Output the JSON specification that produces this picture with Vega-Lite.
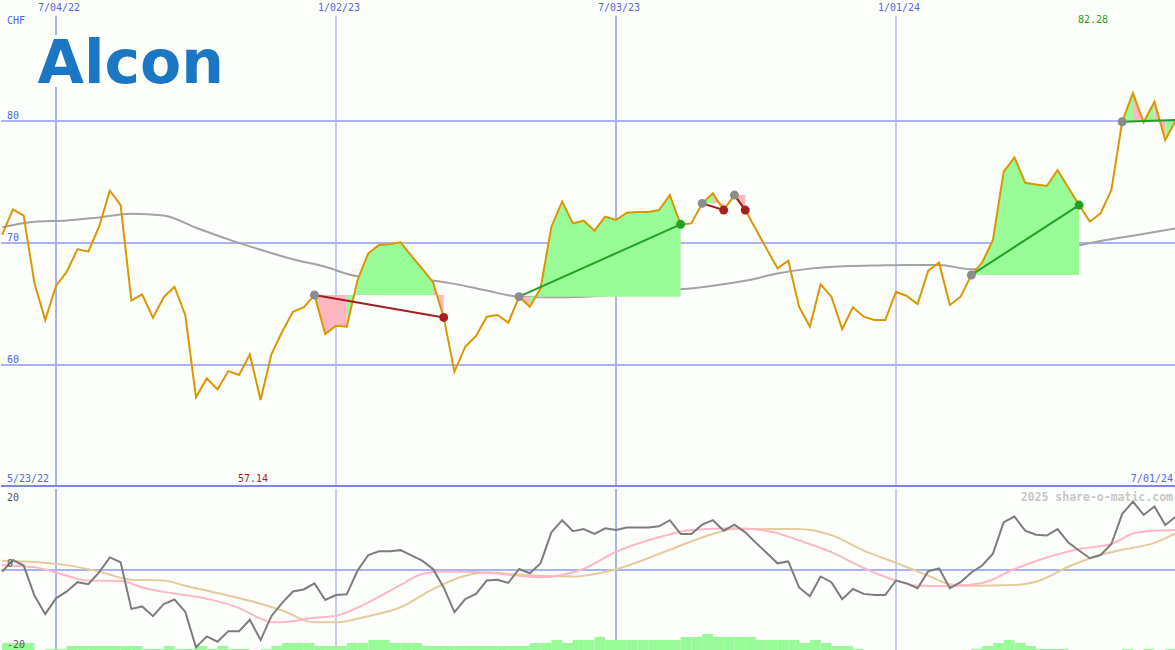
{
"$schema":"https://vega.github.io/schema/vega-lite/v6.json",
"background":"#fcfffc",
"padding":0,
"spacing":0,
"config":{"view":{"stroke":null}},
"datasets":{
"one":[{}],
"wk":[
{"d":"2022-05-30","e":"2022-06-06","p":70.66,"g":-0.4,"v":3},
{"d":"2022-06-06","e":"2022-06-13","p":72.76,"g":2.47,"v":3},
{"d":"2022-06-13","e":"2022-06-20","p":72.24,"g":1.09,"v":3},
{"d":"2022-06-20","e":"2022-06-27","p":66.7,"g":-6.3,"v":0},
{"d":"2022-06-27","e":"2022-07-04","p":63.69,"g":-10.9,"v":1},
{"d":"2022-07-04","e":"2022-07-11","p":66.48,"g":-7.0,"v":1},
{"d":"2022-07-11","e":"2022-07-18","p":67.65,"g":-5.3,"v":2},
{"d":"2022-07-18","e":"2022-07-25","p":69.5,"g":-3.0,"v":2},
{"d":"2022-07-25","e":"2022-08-01","p":69.29,"g":-3.5,"v":2},
{"d":"2022-08-01","e":"2022-08-08","p":71.34,"g":-0.6,"v":2},
{"d":"2022-08-08","e":"2022-08-15","p":74.29,"g":3.1,"v":2},
{"d":"2022-08-15","e":"2022-08-22","p":73.11,"g":1.9,"v":2},
{"d":"2022-08-22","e":"2022-08-29","p":65.27,"g":-9.6,"v":2},
{"d":"2022-08-29","e":"2022-09-05","p":65.79,"g":-9.0,"v":1},
{"d":"2022-09-05","e":"2022-09-12","p":63.88,"g":-11.4,"v":1},
{"d":"2022-09-12","e":"2022-09-19","p":65.55,"g":-8.4,"v":2},
{"d":"2022-09-19","e":"2022-09-26","p":66.42,"g":-7.3,"v":1},
{"d":"2022-09-26","e":"2022-10-03","p":64.1,"g":-10.3,"v":1},
{"d":"2022-10-03","e":"2022-10-10","p":57.35,"g":-19.1,"v":2},
{"d":"2022-10-10","e":"2022-10-17","p":58.9,"g":-16.4,"v":1},
{"d":"2022-10-17","e":"2022-10-24","p":58.0,"g":-17.7,"v":2},
{"d":"2022-10-24","e":"2022-10-31","p":59.5,"g":-15.1,"v":1},
{"d":"2022-10-31","e":"2022-11-07","p":59.18,"g":-15.1,"v":1},
{"d":"2022-11-07","e":"2022-11-14","p":60.87,"g":-12.3,"v":0},
{"d":"2022-11-14","e":"2022-11-21","p":57.14,"g":-17.3,"v":1},
{"d":"2022-11-21","e":"2022-11-28","p":60.87,"g":-11.4,"v":2},
{"d":"2022-11-28","e":"2022-12-05","p":62.73,"g":-8.1,"v":3},
{"d":"2022-12-05","e":"2022-12-12","p":64.37,"g":-5.3,"v":3},
{"d":"2022-12-12","e":"2022-12-19","p":64.73,"g":-4.8,"v":3},
{"d":"2022-12-19","e":"2022-12-26","p":65.74,"g":-3.3,"v":2},
{"d":"2022-12-26","e":"2023-01-02","p":62.54,"g":-7.4,"v":2},
{"d":"2023-01-02","e":"2023-01-09","p":63.22,"g":-6.2,"v":2},
{"d":"2023-01-09","e":"2023-01-16","p":63.14,"g":-6.0,"v":3},
{"d":"2023-01-16","e":"2023-01-23","p":66.97,"g":-0.15,"v":3},
{"d":"2023-01-23","e":"2023-01-30","p":69.16,"g":3.7,"v":4},
{"d":"2023-01-30","e":"2023-02-06","p":69.84,"g":4.6,"v":4},
{"d":"2023-02-06","e":"2023-02-13","p":69.9,"g":4.6,"v":3},
{"d":"2023-02-13","e":"2023-02-20","p":70.06,"g":4.9,"v":3},
{"d":"2023-02-20","e":"2023-02-27","p":68.95,"g":3.6,"v":3},
{"d":"2023-02-27","e":"2023-03-06","p":67.9,"g":2.3,"v":2},
{"d":"2023-03-06","e":"2023-03-13","p":66.8,"g":0.25,"v":2},
{"d":"2023-03-13","e":"2023-03-20","p":63.9,"g":-4.3,"v":2},
{"d":"2023-03-20","e":"2023-03-27","p":59.45,"g":-10.4,"v":2},
{"d":"2023-03-27","e":"2023-04-03","p":61.5,"g":-7.2,"v":2},
{"d":"2023-04-03","e":"2023-04-10","p":62.38,"g":-5.9,"v":2},
{"d":"2023-04-10","e":"2023-04-17","p":63.96,"g":-2.6,"v":2},
{"d":"2023-04-17","e":"2023-04-24","p":64.1,"g":-2.4,"v":2},
{"d":"2023-04-24","e":"2023-05-01","p":63.47,"g":-3.2,"v":2},
{"d":"2023-05-01","e":"2023-05-08","p":65.6,"g":0.25,"v":2},
{"d":"2023-05-08","e":"2023-05-15","p":64.78,"g":-0.8,"v":3},
{"d":"2023-05-15","e":"2023-05-22","p":66.3,"g":1.7,"v":3},
{"d":"2023-05-22","e":"2023-05-29","p":71.34,"g":9.3,"v":4},
{"d":"2023-05-29","e":"2023-06-05","p":73.39,"g":12.3,"v":3},
{"d":"2023-06-05","e":"2023-06-12","p":71.61,"g":9.6,"v":4},
{"d":"2023-06-12","e":"2023-06-19","p":71.83,"g":10.1,"v":4},
{"d":"2023-06-19","e":"2023-06-26","p":71.01,"g":8.9,"v":5},
{"d":"2023-06-26","e":"2023-07-03","p":72.16,"g":10.3,"v":4},
{"d":"2023-07-03","e":"2023-07-10","p":71.89,"g":9.9,"v":4},
{"d":"2023-07-10","e":"2023-07-17","p":72.49,"g":10.5,"v":4},
{"d":"2023-07-17","e":"2023-07-24","p":72.54,"g":10.5,"v":4},
{"d":"2023-07-24","e":"2023-07-31","p":72.54,"g":10.5,"v":4},
{"d":"2023-07-31","e":"2023-08-07","p":72.7,"g":10.8,"v":4},
{"d":"2023-08-07","e":"2023-08-14","p":73.93,"g":12.3,"v":4},
{"d":"2023-08-14","e":"2023-08-21","p":71.53,"g":8.9,"v":5},
{"d":"2023-08-21","e":"2023-08-28","p":71.61,"g":8.9,"v":5},
{"d":"2023-08-28","e":"2023-09-04","p":73.25,"g":11.2,"v":6},
{"d":"2023-09-04","e":"2023-09-11","p":74.07,"g":12.3,"v":5},
{"d":"2023-09-11","e":"2023-09-18","p":72.7,"g":9.7,"v":5},
{"d":"2023-09-18","e":"2023-09-25","p":73.93,"g":11.2,"v":5},
{"d":"2023-09-25","e":"2023-10-02","p":72.7,"g":9.3,"v":5},
{"d":"2023-10-02","e":"2023-10-09","p":71.1,"g":6.7,"v":4},
{"d":"2023-10-09","e":"2023-10-16","p":69.5,"g":4.2,"v":4},
{"d":"2023-10-16","e":"2023-10-23","p":67.93,"g":1.65,"v":4},
{"d":"2023-10-23","e":"2023-10-30","p":68.55,"g":2.1,"v":4},
{"d":"2023-10-30","e":"2023-11-06","p":64.78,"g":-4.3,"v":3},
{"d":"2023-11-06","e":"2023-11-13","p":63.14,"g":-6.5,"v":4},
{"d":"2023-11-13","e":"2023-11-20","p":66.61,"g":-1.6,"v":3},
{"d":"2023-11-20","e":"2023-11-27","p":65.6,"g":-3.0,"v":2},
{"d":"2023-11-27","e":"2023-12-04","p":62.95,"g":-7.2,"v":2},
{"d":"2023-12-04","e":"2023-12-11","p":64.73,"g":-4.7,"v":1},
{"d":"2023-12-11","e":"2023-12-18","p":63.96,"g":-5.9,"v":0},
{"d":"2023-12-18","e":"2023-12-25","p":63.69,"g":-6.2,"v":0},
{"d":"2023-12-25","e":"2024-01-01","p":63.69,"g":-6.2,"v":0},
{"d":"2024-01-01","e":"2024-01-08","p":66.0,"g":-2.6,"v":0},
{"d":"2024-01-08","e":"2024-01-15","p":65.66,"g":-3.3,"v":0},
{"d":"2024-01-15","e":"2024-01-22","p":65.0,"g":-4.5,"v":0},
{"d":"2024-01-22","e":"2024-01-29","p":67.73,"g":-0.3,"v":0},
{"d":"2024-01-29","e":"2024-02-05","p":68.39,"g":0.4,"v":0},
{"d":"2024-02-05","e":"2024-02-12","p":64.92,"g":-4.5,"v":0},
{"d":"2024-02-12","e":"2024-02-19","p":65.6,"g":-3.0,"v":0},
{"d":"2024-02-19","e":"2024-02-26","p":67.38,"g":-0.6,"v":1},
{"d":"2024-02-26","e":"2024-03-04","p":68.4,"g":1.1,"v":2},
{"d":"2024-03-04","e":"2024-03-11","p":70.25,"g":4.0,"v":3},
{"d":"2024-03-11","e":"2024-03-18","p":75.85,"g":11.8,"v":4},
{"d":"2024-03-18","e":"2024-03-25","p":77.02,"g":13.2,"v":3},
{"d":"2024-03-25","e":"2024-04-01","p":74.94,"g":9.7,"v":2},
{"d":"2024-04-01","e":"2024-04-08","p":74.8,"g":8.7,"v":1},
{"d":"2024-04-08","e":"2024-04-15","p":74.67,"g":8.5,"v":1},
{"d":"2024-04-15","e":"2024-04-22","p":75.98,"g":10.1,"v":1},
{"d":"2024-04-22","e":"2024-04-29","p":74.55,"g":6.8,"v":0},
{"d":"2024-04-29","e":"2024-05-06","p":73.11,"g":4.8,"v":0},
{"d":"2024-05-06","e":"2024-05-13","p":71.75,"g":2.9,"v":0},
{"d":"2024-05-13","e":"2024-05-20","p":72.44,"g":3.7,"v":0},
{"d":"2024-05-20","e":"2024-05-27","p":74.34,"g":6.4,"v":0},
{"d":"2024-05-27","e":"2024-06-03","p":79.94,"g":13.8,"v":1},
{"d":"2024-06-03","e":"2024-06-10","p":82.28,"g":16.9,"v":0},
{"d":"2024-06-10","e":"2024-06-17","p":79.9,"g":13.6,"v":1},
{"d":"2024-06-17","e":"2024-06-24","p":81.58,"g":15.7,"v":0},
{"d":"2024-06-24","e":"2024-07-01","p":78.44,"g":11.1,"v":1},
{"d":"2024-07-01","e":"2024-07-08","p":80.08,"g":13.2,"v":0}
],
"ma":[
{"d":"2022-05-30","m":71.3},{"d":"2022-06-20","m":71.75},{"d":"2022-07-11","m":71.85},{"d":"2022-08-01","m":72.1},
{"d":"2022-08-22","m":72.4},{"d":"2022-09-12","m":72.25},{"d":"2022-10-03","m":71.25},{"d":"2022-10-24","m":70.3},
{"d":"2022-11-14","m":69.45},{"d":"2022-12-05","m":68.67},{"d":"2022-12-26","m":68.05},{"d":"2023-01-16","m":67.28},
{"d":"2023-02-06","m":67.16},{"d":"2023-02-27","m":67.0},{"d":"2023-03-20","m":66.65},{"d":"2023-04-10","m":66.1},
{"d":"2023-05-01","m":65.6},{"d":"2023-05-22","m":65.55},{"d":"2023-06-12","m":65.6},{"d":"2023-07-03","m":65.8},
{"d":"2023-07-24","m":66.05},{"d":"2023-08-14","m":66.2},{"d":"2023-09-04","m":66.5},{"d":"2023-09-25","m":66.9},
{"d":"2023-10-16","m":67.5},{"d":"2023-11-06","m":67.9},{"d":"2023-11-27","m":68.1},{"d":"2023-12-18","m":68.15},
{"d":"2024-01-08","m":68.2},{"d":"2024-01-29","m":68.2},{"d":"2024-02-19","m":67.85},{"d":"2024-03-11","m":68.1},
{"d":"2024-04-01","m":68.9},{"d":"2024-04-22","m":69.6},{"d":"2024-05-13","m":70.16},{"d":"2024-06-03","m":70.6},
{"d":"2024-07-01","m":71.2}
],
"pk":[
{"d":"2022-05-30","o":1.2},{"d":"2022-06-20","o":0.7},{"d":"2022-07-04","o":-0.6},{"d":"2022-07-25","o":-2.6},
{"d":"2022-08-15","o":-2.7},{"d":"2022-08-29","o":-4.3},{"d":"2022-09-12","o":-5.4},{"d":"2022-10-10","o":-7.1},
{"d":"2022-10-31","o":-9.4},{"d":"2022-11-14","o":-12.0},{"d":"2022-11-21","o":-12.9},{"d":"2022-11-28","o":-12.9},
{"d":"2022-12-19","o":-11.8},{"d":"2023-01-02","o":-11.3},{"d":"2023-01-23","o":-8.0},{"d":"2023-02-13","o":-3.7},
{"d":"2023-02-27","o":-1.0},{"d":"2023-03-13","o":-0.4},{"d":"2023-04-10","o":-0.7},{"d":"2023-05-01","o":-1.4},
{"d":"2023-05-15","o":-1.8},{"d":"2023-06-12","o":0.3},{"d":"2023-07-03","o":4.5},{"d":"2023-07-31","o":8.1},
{"d":"2023-08-21","o":9.9},{"d":"2023-09-18","o":10.3},{"d":"2023-10-09","o":9.7},{"d":"2023-10-30","o":7.3},
{"d":"2023-11-20","o":4.4},{"d":"2023-12-11","o":0.5},{"d":"2024-01-01","o":-2.6},{"d":"2024-01-15","o":-3.9},
{"d":"2024-02-05","o":-4.0},{"d":"2024-02-26","o":-3.2},{"d":"2024-03-18","o":0.25},{"d":"2024-04-08","o":3.1},
{"d":"2024-04-29","o":5.2},{"d":"2024-05-20","o":6.4},{"d":"2024-06-03","o":9.0},{"d":"2024-06-17","o":9.7},
{"d":"2024-07-01","o":9.9}
],
"tn":[
{"d":"2022-05-30","o":2.3},{"d":"2022-06-13","o":2.1},{"d":"2022-07-11","o":1.2},{"d":"2022-08-01","o":-0.4},
{"d":"2022-08-22","o":-2.4},{"d":"2022-09-12","o":-2.6},{"d":"2022-09-26","o":-3.9},{"d":"2022-10-17","o":-5.7},
{"d":"2022-11-07","o":-7.6},{"d":"2022-11-28","o":-10.0},{"d":"2022-12-19","o":-12.9},{"d":"2023-01-02","o":-12.9},
{"d":"2023-01-23","o":-11.4},{"d":"2023-02-13","o":-9.2},{"d":"2023-03-06","o":-4.7},{"d":"2023-03-27","o":-1.4},
{"d":"2023-04-10","o":-0.6},{"d":"2023-05-01","o":-1.2},{"d":"2023-06-05","o":-1.6},{"d":"2023-07-03","o":0.2},
{"d":"2023-08-07","o":5.0},{"d":"2023-09-04","o":8.9},{"d":"2023-09-18","o":10.1},{"d":"2023-10-30","o":10.1},
{"d":"2023-11-20","o":8.6},{"d":"2023-12-11","o":4.8},{"d":"2024-01-01","o":1.8},{"d":"2024-01-22","o":-1.4},
{"d":"2024-02-05","o":-3.5},{"d":"2024-02-19","o":-3.9},{"d":"2024-03-18","o":-3.7},{"d":"2024-04-01","o":-2.9},
{"d":"2024-04-22","o":0.8},{"d":"2024-05-06","o":2.9},{"d":"2024-05-27","o":5.0},{"d":"2024-06-17","o":6.7},
{"d":"2024-07-01","o":9.1}
],
"fill":[
{"i":"A1","d":"2022-12-19","p":65.74,"b":65.74,"c":"down"},{"i":"A1","d":"2022-12-26","p":62.54,"b":65.74,"c":"down"},
{"i":"A1","d":"2023-01-02","p":63.22,"b":65.74,"c":"down"},{"i":"A1","d":"2023-01-09","p":63.14,"b":65.74,"c":"down"},
{"i":"A2","d":"2023-01-09","p":63.14,"b":65.74,"c":"up"},{"i":"A2","d":"2023-01-16","p":66.97,"b":65.74,"c":"up"},
{"i":"A2","d":"2023-01-23","p":69.16,"b":65.74,"c":"up"},{"i":"A2","d":"2023-01-30","p":69.84,"b":65.74,"c":"up"},
{"i":"A2","d":"2023-02-06","p":69.9,"b":65.74,"c":"up"},{"i":"A2","d":"2023-02-13","p":70.06,"b":65.74,"c":"up"},
{"i":"A2","d":"2023-02-20","p":68.95,"b":65.74,"c":"up"},{"i":"A2","d":"2023-02-27","p":67.9,"b":65.74,"c":"up"},
{"i":"A2","d":"2023-03-06","p":66.8,"b":65.74,"c":"up"},
{"i":"A3","d":"2023-03-06","p":66.8,"b":65.74,"c":"down"},{"i":"A3","d":"2023-03-13","p":63.9,"b":65.74,"c":"down"},
{"i":"B1","d":"2023-05-01","p":65.6,"b":65.6,"c":"down"},{"i":"B1","d":"2023-05-08","p":64.78,"b":65.6,"c":"down"},
{"i":"B2","d":"2023-05-08","p":64.78,"b":65.6,"c":"up"},{"i":"B2","d":"2023-05-15","p":66.3,"b":65.6,"c":"up"},
{"i":"B2","d":"2023-05-22","p":71.34,"b":65.6,"c":"up"},{"i":"B2","d":"2023-05-29","p":73.39,"b":65.6,"c":"up"},
{"i":"B2","d":"2023-06-05","p":71.61,"b":65.6,"c":"up"},{"i":"B2","d":"2023-06-12","p":71.83,"b":65.6,"c":"up"},
{"i":"B2","d":"2023-06-19","p":71.01,"b":65.6,"c":"up"},{"i":"B2","d":"2023-06-26","p":72.16,"b":65.6,"c":"up"},
{"i":"B2","d":"2023-07-03","p":71.89,"b":65.6,"c":"up"},{"i":"B2","d":"2023-07-10","p":72.49,"b":65.6,"c":"up"},
{"i":"B2","d":"2023-07-17","p":72.54,"b":65.6,"c":"up"},{"i":"B2","d":"2023-07-24","p":72.54,"b":65.6,"c":"up"},
{"i":"B2","d":"2023-07-31","p":72.7,"b":65.6,"c":"up"},{"i":"B2","d":"2023-08-07","p":73.93,"b":65.6,"c":"up"},
{"i":"B2","d":"2023-08-14","p":71.53,"b":65.6,"c":"up"},
{"i":"C1","d":"2023-08-28","p":73.25,"b":73.25,"c":"up"},{"i":"C1","d":"2023-09-04","p":74.07,"b":73.25,"c":"up"},
{"i":"C2","d":"2023-09-04","p":74.07,"b":73.25,"c":"down"},{"i":"C2","d":"2023-09-11","p":72.7,"b":73.25,"c":"down"},
{"i":"D1","d":"2023-09-18","p":73.93,"b":73.93,"c":"down"},{"i":"D1","d":"2023-09-25","p":72.7,"b":73.93,"c":"down"},
{"i":"E1","d":"2024-02-19","p":67.38,"b":67.38,"c":"up"},{"i":"E1","d":"2024-02-26","p":68.4,"b":67.38,"c":"up"},
{"i":"E1","d":"2024-03-04","p":70.25,"b":67.38,"c":"up"},{"i":"E1","d":"2024-03-11","p":75.85,"b":67.38,"c":"up"},
{"i":"E1","d":"2024-03-18","p":77.02,"b":67.38,"c":"up"},{"i":"E1","d":"2024-03-25","p":74.94,"b":67.38,"c":"up"},
{"i":"E1","d":"2024-04-01","p":74.8,"b":67.38,"c":"up"},{"i":"E1","d":"2024-04-08","p":74.67,"b":67.38,"c":"up"},
{"i":"E1","d":"2024-04-15","p":75.98,"b":67.38,"c":"up"},{"i":"E1","d":"2024-04-22","p":74.55,"b":67.38,"c":"up"},
{"i":"E1","d":"2024-04-29","p":73.11,"b":67.38,"c":"up"},
{"i":"F1","d":"2024-05-27","p":79.94,"b":79.94,"c":"up"},{"i":"F1","d":"2024-06-03","p":82.28,"b":79.94,"c":"up"},
{"i":"F2","d":"2024-06-03","p":82.28,"b":79.94,"c":"down"},{"i":"F2","d":"2024-06-10","p":79.9,"b":79.94,"c":"down"},
{"i":"F3","d":"2024-06-10","p":79.9,"b":79.94,"c":"up"},{"i":"F3","d":"2024-06-17","p":81.58,"b":79.94,"c":"up"},
{"i":"F4","d":"2024-06-17","p":81.58,"b":79.94,"c":"down"},{"i":"F4","d":"2024-06-24","p":78.44,"b":79.94,"c":"down"},
{"i":"F5","d":"2024-06-24","p":78.44,"b":79.94,"c":"up"},{"i":"F5","d":"2024-07-01","p":80.08,"b":79.94,"c":"up"}
],
"trend":[
{"s":"A","d":"2022-12-19","p":65.74,"dir":"down"},{"s":"A","d":"2023-03-13","p":63.9,"dir":"down"},
{"s":"B","d":"2023-05-01","p":65.6,"dir":"up"},{"s":"B","d":"2023-08-14","p":71.53,"dir":"up"},
{"s":"C","d":"2023-08-28","p":73.25,"dir":"down"},{"s":"C","d":"2023-09-11","p":72.7,"dir":"down"},
{"s":"D","d":"2023-09-18","p":73.93,"dir":"down"},{"s":"D","d":"2023-09-25","p":72.7,"dir":"down"},
{"s":"E","d":"2024-02-19","p":67.38,"dir":"up"},{"s":"E","d":"2024-04-29","p":73.11,"dir":"up"},
{"s":"F","d":"2024-05-27","p":79.94,"dir":"up"},{"s":"F","d":"2024-07-01","p":80.08,"dir":"up"}
],
"dots":[
{"d":"2022-12-19","p":65.74,"t":"start"},{"d":"2023-03-13","p":63.9,"t":"down"},
{"d":"2023-05-01","p":65.6,"t":"start"},{"d":"2023-08-14","p":71.53,"t":"up"},
{"d":"2023-08-28","p":73.25,"t":"start"},{"d":"2023-09-11","p":72.7,"t":"down"},
{"d":"2023-09-18","p":73.93,"t":"start"},{"d":"2023-09-25","p":72.7,"t":"down"},
{"d":"2024-02-19","p":67.38,"t":"start"},{"d":"2024-04-29","p":73.11,"t":"up"},
{"d":"2024-05-27","p":79.94,"t":"start"}
]
},
"vconcat":[
{
"width":1175,"height":487,
"resolve":{"scale":{"color":"independent"}},
"layer":[
{"data":{"values":[{"v":60},{"v":70},{"v":80}]},"mark":{"type":"rule","color":"#a9b2f3","strokeWidth":2},
 "encoding":{"y":{"field":"v","type":"quantitative","scale":{"domain":[50,89.92],"nice":false,"zero":false},"axis":null}}},
{"data":{"values":[{"d":"2022-07-04"},{"d":"2023-07-03"}]},"mark":{"type":"rule","color":"#a9b2f3","strokeWidth":2},
 "encoding":{"x":{"field":"d","type":"temporal","scale":{"domain":[{"year":2022,"month":5,"date":29,"hours":6},{"year":2024,"month":7,"date":1}],"nice":false},"axis":null},
  "y":{"datum":88.63,"type":"quantitative","scale":{"domain":[50,89.92],"nice":false,"zero":false},"axis":null},"y2":{"datum":50}}},
{"data":{"values":[{"d":"2023-01-02"},{"d":"2024-01-01"}]},"mark":{"type":"rule","color":"#a9b2f3","strokeWidth":1.3},
 "encoding":{"x":{"field":"d","type":"temporal","scale":{"domain":[{"year":2022,"month":5,"date":29,"hours":6},{"year":2024,"month":7,"date":1}],"nice":false},"axis":null},
  "y":{"datum":88.63,"type":"quantitative","scale":{"domain":[50,89.92],"nice":false,"zero":false},"axis":null},"y2":{"datum":50}}},
{"data":{"name":"one"},"mark":{"type":"rule","color":"#7a85ee","strokeWidth":2},"encoding":{"y":{"datum":50.09,"type":"quantitative","scale":{"domain":[50,89.92],"nice":false,"zero":false},"axis":null}}},
{"data":{"name":"one"},"mark":{"type":"rect","color":"#fcfffc"},
 "encoding":{"x":{"datum":{"year":2022,"month":6,"date":19},"type":"temporal","scale":{"domain":[{"year":2022,"month":5,"date":29,"hours":6},{"year":2024,"month":7,"date":1}],"nice":false},"axis":null},
  "x2":{"datum":{"year":2022,"month":10,"date":29}},
  "y":{"datum":87.05,"type":"quantitative","scale":{"domain":[50,89.92],"nice":false,"zero":false},"axis":null},"y2":{"datum":82.79}}},
{"data":{"name":"one"},"mark":{"type":"text","text":"Alcon","font":"DejaVu Sans","fontWeight":"bold","fontSize":60,"color":"#1b76c4","align":"left","baseline":"alphabetic"},
 "encoding":{"x":{"datum":{"year":2022,"month":6,"date":22},"type":"temporal","scale":{"domain":[{"year":2022,"month":5,"date":29,"hours":6},{"year":2024,"month":7,"date":1}],"nice":false},"axis":null},
  "y":{"datum":83.12,"type":"quantitative","scale":{"domain":[50,89.92],"nice":false,"zero":false},"axis":null}}},
{"data":{"name":"ma"},"mark":{"type":"line","color":"#a3a3a3","strokeWidth":2,"interpolate":"monotone","clip":true},
 "encoding":{"x":{"field":"d","type":"temporal","scale":{"domain":[{"year":2022,"month":5,"date":29,"hours":6},{"year":2024,"month":7,"date":1}],"nice":false},"axis":null},
  "y":{"field":"m","type":"quantitative","scale":{"domain":[50,89.92],"nice":false,"zero":false},"axis":null}}},
{"data":{"name":"fill"},"mark":{"type":"area","opacity":1,"clip":true},
 "encoding":{"x":{"field":"d","type":"temporal","scale":{"domain":[{"year":2022,"month":5,"date":29,"hours":6},{"year":2024,"month":7,"date":1}],"nice":false},"axis":null},
  "y":{"field":"p","type":"quantitative","scale":{"domain":[50,89.92],"nice":false,"zero":false},"axis":null},
  "y2":{"field":"b"},
  "detail":{"field":"i"},
  "color":{"field":"c","type":"nominal","scale":{"domain":["up","down"],"range":["#98fb98","#ffb6c1"]},"legend":null}}},
{"data":{"name":"wk"},"mark":{"type":"line","color":"#dc9600","strokeWidth":2,"clip":true},
 "encoding":{"x":{"field":"d","type":"temporal","scale":{"domain":[{"year":2022,"month":5,"date":29,"hours":6},{"year":2024,"month":7,"date":1}],"nice":false},"axis":null},
  "y":{"field":"p","type":"quantitative","scale":{"domain":[50,89.92],"nice":false,"zero":false},"axis":null}}},
{"data":{"name":"trend"},"mark":{"type":"line","strokeWidth":2,"clip":true},
 "encoding":{"x":{"field":"d","type":"temporal","scale":{"domain":[{"year":2022,"month":5,"date":29,"hours":6},{"year":2024,"month":7,"date":1}],"nice":false},"axis":null},
  "y":{"field":"p","type":"quantitative","scale":{"domain":[50,89.92],"nice":false,"zero":false},"axis":null},
  "detail":{"field":"s"},
  "color":{"field":"dir","type":"nominal","scale":{"domain":["up","down"],"range":["#22a022","#a31f1f"]},"legend":null}}},
{"data":{"name":"dots"},"mark":{"type":"circle","size":80,"opacity":1},
 "encoding":{"x":{"field":"d","type":"temporal","scale":{"domain":[{"year":2022,"month":5,"date":29,"hours":6},{"year":2024,"month":7,"date":1}],"nice":false},"axis":null},
  "y":{"field":"p","type":"quantitative","scale":{"domain":[50,89.92],"nice":false,"zero":false},"axis":null},
  "color":{"field":"t","type":"nominal","scale":{"domain":["start","up","down"],"range":["#8c8c8c","#22a022","#a81e1e"]},"legend":null}}},
{"data":{"values":[{"d":"2022-07-04","t":"7/04/22"},{"d":"2023-01-02","t":"1/02/23"},{"d":"2023-07-03","t":"7/03/23"},{"d":"2024-01-01","t":"1/01/24"}]},
 "mark":{"type":"text","font":"DejaVu Sans Mono","fontSize":10,"color":"#5563e8","align":"center","baseline":"middle","dx":3},
 "encoding":{"x":{"field":"d","type":"temporal","scale":{"domain":[{"year":2022,"month":5,"date":29,"hours":6},{"year":2024,"month":7,"date":1}],"nice":false},"axis":null},
  "y":{"datum":89.27,"type":"quantitative","scale":{"domain":[50,89.92],"nice":false,"zero":false},"axis":null},
  "text":{"field":"t"}}},
{"data":{"values":[{"v":60,"t":"60"},{"v":70,"t":"70"},{"v":80,"t":"80"}]},
 "mark":{"type":"text","font":"DejaVu Sans Mono","fontSize":10,"color":"#5563e8","align":"left","baseline":"middle","dx":6,"dy":-5},
 "encoding":{"x":{"datum":{"year":2022,"month":5,"date":29,"hours":6},"type":"temporal","scale":{"domain":[{"year":2022,"month":5,"date":29,"hours":6},{"year":2024,"month":7,"date":1}],"nice":false},"axis":null},
  "y":{"field":"v","type":"quantitative","scale":{"domain":[50,89.92],"nice":false,"zero":false},"axis":null},
  "text":{"field":"t"}}},
{"data":{"name":"one"},"mark":{"type":"text","text":"CHF","font":"DejaVu Sans Mono","fontSize":10,"color":"#5563e8","align":"left","baseline":"middle","dx":6},
 "encoding":{"x":{"datum":{"year":2022,"month":5,"date":29,"hours":6},"type":"temporal","scale":{"domain":[{"year":2022,"month":5,"date":29,"hours":6},{"year":2024,"month":7,"date":1}],"nice":false},"axis":null},
  "y":{"datum":88.2,"type":"quantitative","scale":{"domain":[50,89.92],"nice":false,"zero":false},"axis":null}}},
{"data":{"name":"one"},"mark":{"type":"text","text":"5/23/22","font":"DejaVu Sans Mono","fontSize":10,"color":"#5563e8","align":"left","baseline":"middle","dx":6},
 "encoding":{"x":{"datum":{"year":2022,"month":5,"date":29,"hours":6},"type":"temporal","scale":{"domain":[{"year":2022,"month":5,"date":29,"hours":6},{"year":2024,"month":7,"date":1}],"nice":false},"axis":null},
  "y":{"datum":50.66,"type":"quantitative","scale":{"domain":[50,89.92],"nice":false,"zero":false},"axis":null}}},
{"data":{"name":"one"},"mark":{"type":"text","text":"7/01/24","font":"DejaVu Sans Mono","fontSize":10,"color":"#5563e8","align":"right","baseline":"middle","dx":-3},
 "encoding":{"x":{"datum":{"year":2024,"month":7,"date":1},"type":"temporal","scale":{"domain":[{"year":2022,"month":5,"date":29,"hours":6},{"year":2024,"month":7,"date":1}],"nice":false},"axis":null},
  "y":{"datum":50.66,"type":"quantitative","scale":{"domain":[50,89.92],"nice":false,"zero":false},"axis":null}}},
{"data":{"name":"one"},"mark":{"type":"text","text":"57.14","font":"DejaVu Sans Mono","fontSize":10,"color":"#a31f1f","align":"center","baseline":"middle"},
 "encoding":{"x":{"datum":{"year":2022,"month":11,"date":9},"type":"temporal","scale":{"domain":[{"year":2022,"month":5,"date":29,"hours":6},{"year":2024,"month":7,"date":1}],"nice":false},"axis":null},
  "y":{"datum":50.66,"type":"quantitative","scale":{"domain":[50,89.92],"nice":false,"zero":false},"axis":null}}},
{"data":{"name":"one"},"mark":{"type":"text","text":"82.28","font":"DejaVu Sans Mono","fontSize":10,"color":"#22a022","align":"center","baseline":"middle"},
 "encoding":{"x":{"datum":{"year":2024,"month":5,"date":8},"type":"temporal","scale":{"domain":[{"year":2022,"month":5,"date":29,"hours":6},{"year":2024,"month":7,"date":1}],"nice":false},"axis":null},
  "y":{"datum":88.28,"type":"quantitative","scale":{"domain":[50,89.92],"nice":false,"zero":false},"axis":null}}}
]
},
{
"width":1175,"height":163,
"resolve":{"scale":{"y":"independent"}},
"layer":[
{"data":{"values":[{"d":"2022-07-04"},{"d":"2023-07-03"}]},"mark":{"type":"rule","color":"#a9b2f3","strokeWidth":2},
 "encoding":{"x":{"field":"d","type":"temporal","scale":{"domain":[{"year":2022,"month":5,"date":29,"hours":6},{"year":2024,"month":7,"date":1}],"nice":false},"axis":null}}},
{"data":{"values":[{"d":"2023-01-02"},{"d":"2024-01-01"}]},"mark":{"type":"rule","color":"#a9b2f3","strokeWidth":1.3},
 "encoding":{"x":{"field":"d","type":"temporal","scale":{"domain":[{"year":2022,"month":5,"date":29,"hours":6},{"year":2024,"month":7,"date":1}],"nice":false},"axis":null}}},
{"data":{"name":"wk"},"mark":{"type":"rect","color":"#98fb98","clip":true},
 "encoding":{"x":{"field":"d","type":"temporal","scale":{"domain":[{"year":2022,"month":5,"date":29,"hours":6},{"year":2024,"month":7,"date":1}],"nice":false},"axis":null},
  "x2":{"field":"e"},
  "y":{"field":"v","type":"quantitative","scale":{"domain":[0,54.33],"nice":false,"zero":true},"axis":null},
  "y2":{"datum":0}}},
{"data":{"name":"one"},"mark":{"type":"rule","color":"#a9b2f3","strokeWidth":2},"encoding":{"y":{"datum":0,"type":"quantitative","scale":{"domain":[-20.25,20],"nice":false,"zero":false},"axis":null}}},
{"data":{"name":"tn"},"mark":{"type":"line","color":"#e6cc9c","strokeWidth":2,"interpolate":"monotone","clip":true},
 "encoding":{"x":{"field":"d","type":"temporal","scale":{"domain":[{"year":2022,"month":5,"date":29,"hours":6},{"year":2024,"month":7,"date":1}],"nice":false},"axis":null},
  "y":{"field":"o","type":"quantitative","scale":{"domain":[-20.25,20],"nice":false,"zero":false},"axis":null}}},
{"data":{"name":"pk"},"mark":{"type":"line","color":"#ffb6c8","strokeWidth":2,"interpolate":"monotone","clip":true},
 "encoding":{"x":{"field":"d","type":"temporal","scale":{"domain":[{"year":2022,"month":5,"date":29,"hours":6},{"year":2024,"month":7,"date":1}],"nice":false},"axis":null},
  "y":{"field":"o","type":"quantitative","scale":{"domain":[-20.25,20],"nice":false,"zero":false},"axis":null}}},
{"data":{"name":"wk"},"mark":{"type":"line","color":"#7d7d7d","strokeWidth":2,"clip":true},
 "encoding":{"x":{"field":"d","type":"temporal","scale":{"domain":[{"year":2022,"month":5,"date":29,"hours":6},{"year":2024,"month":7,"date":1}],"nice":false},"axis":null},
  "y":{"field":"g","type":"quantitative","scale":{"domain":[-20.25,20],"nice":false,"zero":false},"axis":null}}},
{"data":{"values":[{"v":17.8,"t":"20"},{"v":1.5,"t":"0"},{"v":-18.4,"t":"-20"}]},
 "mark":{"type":"text","font":"DejaVu Sans Mono","fontSize":10,"color":"#555555","align":"left","baseline":"middle","dx":6},
 "encoding":{"x":{"datum":{"year":2022,"month":5,"date":29,"hours":6},"type":"temporal","scale":{"domain":[{"year":2022,"month":5,"date":29,"hours":6},{"year":2024,"month":7,"date":1}],"nice":false},"axis":null},
  "y":{"field":"v","type":"quantitative","scale":{"domain":[-20.25,20],"nice":false,"zero":false},"axis":null},
  "text":{"field":"t"}}},
{"data":{"name":"one"},"mark":{"type":"text","text":"2025 share-o-matic.com","font":"DejaVu Sans Mono","fontWeight":"bold","fontSize":11.5,"color":"#c8c8c8","align":"right","baseline":"middle","dx":-3},
 "encoding":{"x":{"datum":{"year":2024,"month":7,"date":1},"type":"temporal","scale":{"domain":[{"year":2022,"month":5,"date":29,"hours":6},{"year":2024,"month":7,"date":1}],"nice":false},"axis":null},
  "y":{"datum":17.8,"type":"quantitative","scale":{"domain":[-20.25,20],"nice":false,"zero":false},"axis":null}}}
]
}
]
}
